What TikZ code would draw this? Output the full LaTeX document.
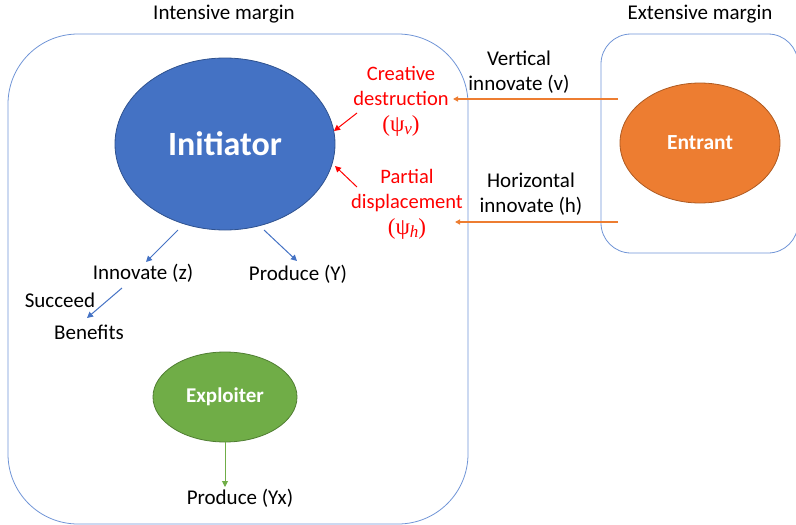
\documentclass[tikz,border=0pt]{standalone}
\usepackage{fontspec}
\setmainfont{Carlito}
\newfontfamily\mathlike{Liberation Serif}
\usetikzlibrary{shapes.geometric,arrows.meta}
\definecolor{ofblue}{HTML}{4472C4}
\definecolor{ofblueedge}{HTML}{2F528F}
\definecolor{boxline}{HTML}{6F94D6}
\definecolor{oforange}{HTML}{ED7D31}
\definecolor{oforangeedge}{HTML}{AE5A21}
\definecolor{ofgreen}{HTML}{70AD47}
\definecolor{ofgreenedge}{HTML}{507E32}
\definecolor{ofred}{HTML}{FF0000}
\tikzset{
  margin/.style={draw=boxline, line width=0.8pt},
  agent/.style={ellipse, line width=0.8pt, text=white, font=\bfseries, inner sep=0pt},
  lbl/.style={font=\fontsize{21}{25}\selectfont, text=black, align=center, inner sep=0pt},
  redlbl/.style={lbl, text=ofred, font=\fontsize{20.5}{25.5}\selectfont},
  link/.style={-{Triangle[length=6pt,width=6pt]}, line width=1pt},
}
\newcommand{\psisub}[1]{{\mathlike\fontsize{23}{25}\selectfont(ψ\raisebox{-0.3ex}{\fontsize{17}{17}\selectfont\itshape #1})}}
\begin{document}
\begin{tikzpicture}[x=1pt,y=-1pt]
\useasboundingbox (0,0) rectangle (796,525);
\begin{scope}
\clip (0,0) rectangle (796,525);
% the two margin frames
\draw[margin, rounded corners=70pt] (8,34) rectangle (468,524);
\draw[margin, rounded corners=30pt] (601,34) rectangle (798,253);
\end{scope}

\node[lbl] (intl) at (224,14) {Intensive margin};
\node[lbl] (extl) at (700,14) {Extensive margin};

% agents
\node[agent, fill=ofblue, draw=ofblueedge, minimum width=220pt, minimum height=172pt,
      font=\bfseries\fontsize{34}{38}\selectfont] (init) at (225,144) {Initiator};
\node[agent, fill=oforange, draw=oforangeedge, minimum width=160pt, minimum height=120pt,
      font=\bfseries\fontsize{21.5}{24}\selectfont] (entr) at (700,143) {Entrant};
\node[agent, fill=ofgreen, draw=ofgreenedge, minimum width=144pt, minimum height=90pt,
      font=\bfseries\fontsize{21}{24}\selectfont] (expl) at (225,397) {Exploiter};

% entrant's innovations
\node[lbl] (vlab) at (519,72) {Vertical\\innovate (v)};
\node[lbl] (hlab) at (531,194.5) {Horizontal\\innovate (h)};
\coordinate (vs) at (618,99);
\coordinate (ve) at (453,99);
\coordinate (hs) at (618,222);
\coordinate (he) at (455,222);
\draw[link, color=oforange, line width=1.2pt, -{Triangle[length=5pt,width=5pt]}] (vs) -- (ve);
\draw[link, color=oforange, line width=1.2pt, -{Triangle[length=5pt,width=5pt]}] (hs) -- (he);

% effects on the initiator
\node[redlbl] (cd) at (401,101) {Creative\\destruction\\\psisub{v}};
\node[redlbl] (pd) at (407,204) {Partial\\displacement\\\psisub{h}};
\coordinate (cds) at (357,113);
\coordinate (cde) at (334,131);
\coordinate (pds) at (357,187);
\coordinate (pde) at (335,166);
\draw[link, color=ofred] (cds) -- (cde);
\draw[link, color=ofred] (pds) -- (pde);

% initiator's activities
\node[lbl] (inn) at (143,273) {Innovate (z)};
\node[lbl] (prod) at (298,274) {Produce (Y)};
\coordinate (i1) at (178,230);
\coordinate (i2) at (264,230);
\coordinate (i1e) at (146,262);
\coordinate (i2e) at (297,261);
\draw[link, color=ofblue] (i1) -- (i1e);
\draw[link, color=ofblue] (i2) -- (i2e);

\node[lbl] (succ) at (60,300) {Succeed};
\node[lbl] (ben) at (89,332) {Benefits};
\coordinate (s1) at (122,288);
\coordinate (s2) at (87,318);
\draw[link, color=ofblue] (s1) -- (s2);

% exploiter's output
\node[lbl] (prodx) at (240,498) {Produce (Yx)};
\coordinate (x2) at (225,487);
\draw[link, color=ofgreen] (expl.south) -- (x2);
\end{tikzpicture}
\end{document}
